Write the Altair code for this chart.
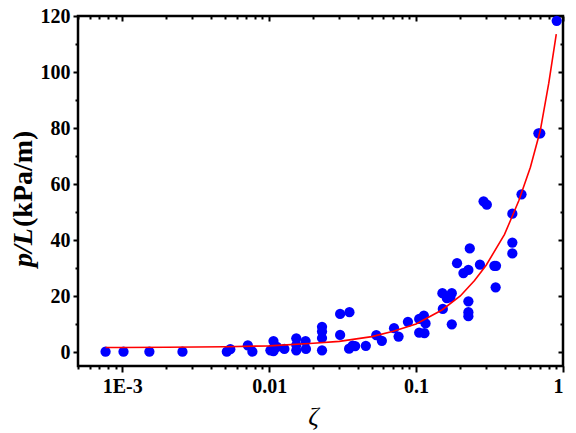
import altair as alt
import pandas as pd

# measured points (zeta, p/L in kPa/m)
zeta = [0.00077, 0.00102, 0.00153, 0.00257, 0.00515, 0.00544, 0.00716, 0.00769,
        0.0102, 0.0107, 0.0107, 0.0113, 0.0127, 0.0153, 0.0153, 0.0153, 0.0177,
        0.0178, 0.0229, 0.0229, 0.0229, 0.0229, 0.0304, 0.0352, 0.0304, 0.0350,
        0.0370, 0.0385, 0.0455, 0.0536, 0.0585, 0.0708, 0.0760, 0.0880, 0.105,
        0.105, 0.113, 0.116, 0.114, 0.152, 0.151, 0.162, 0.171, 0.175, 0.175,
        0.190, 0.210, 0.227, 0.232, 0.227, 0.227, 0.227, 0.272, 0.341, 0.350,
        0.348, 0.288, 0.303, 0.452, 0.452, 0.452, 0.522, 0.68, 0.70, 0.906]
pL = [0.1, 0.1, 0.1, 0.1, 0.1, 1.0, 2.4, 0.1,
      0.6, 3.9, 0.3, 1.8, 1.1, 4.9, 2.5, 0.6, 3.9,
      1.1, 9.0, 7.3, 5.0, 0.6, 13.6, 14.2, 6.1, 1.2,
      2.3, 2.1, 2.2, 6.0, 4.0, 8.5, 5.5, 10.8, 11.8,
      6.9, 13.0, 10.2, 6.7, 15.4, 21.0, 19.2, 19.5, 21.0, 9.9,
      31.7, 28.2, 29.3, 37.0, 18.1, 14.2, 12.8, 31.2, 30.8, 30.8,
      23.1, 53.8, 52.6, 49.4, 39.1, 35.2, 56.3, 78.1, 78.1, 118.3]

# fitted curve
fit_x = [0.00077, 0.001, 0.002, 0.005, 0.01, 0.02, 0.03, 0.05, 0.07, 0.1,
         0.15, 0.2, 0.25, 0.3, 0.4, 0.5, 0.6, 0.7, 0.8, 0.9]
fit_y = [1.6, 1.6, 1.7, 1.9, 2.2, 3.1, 3.8, 5.5, 7.4, 10.0,
         15.0, 20.0, 25.5, 31.0, 42.0, 54.0, 66.0, 79.0, 96.0, 113.5]

x_major = [0.001, 0.01, 0.1, 1]
x_minor = [m * d for d in [0.0001, 0.001, 0.01, 0.1] for m in range(2, 10)]
x_minor = [v for v in x_minor if 0.0005 <= v <= 1]
y_major = [0, 20, 40, 60, 80, 100, 120]
y_minor = [10, 30, 50, 70, 90, 110]

W, H = 485, 350
FONT = "Liberation Serif"

pts = pd.DataFrame({"zeta": zeta, "pL": pL})
fit = pd.DataFrame({"zeta": fit_x, "pL": fit_y})

xs = alt.Scale(type="log", domain=[0.0005, 1], nice=False)
ys = alt.Scale(domain=[-5, 120], nice=False, zero=False)

lbl = ("datum.value < 0.005 ? '1E-3' : datum.value < 0.05 ? '0.01' : "
       "datum.value < 0.5 ? '0.1' : '1'")


def ax(**kw):
    base = dict(grid=False, domain=False, tickColor="black", tickWidth=2,
                labelFont=FONT, labelFontWeight="bold", labelFontSize=20,
                labelColor="black")
    base.update(kw)
    return alt.Axis(**base)


points = alt.Chart(pts).mark_circle(size=105, color="#0000ff", opacity=1).encode(
    x=alt.X("zeta:Q", scale=xs,
            axis=ax(orient="bottom", values=x_major, labelExpr=lbl, tickSize=6,
                    labelPadding=4, title="ζ", titleFont=FONT,
                    titleFontStyle="italic", titleFontWeight="normal",
                    titleFontSize=26, titleColor="black", titlePadding=7,
                    titleX=235)),
    y=alt.Y("pL:Q", scale=ys,
            axis=ax(orient="left", values=y_major, tickSize=5, labelPadding=3,
                    title=None)),
)

curve = alt.Chart(fit).mark_line(color="#ff0000", strokeWidth=1.6).encode(
    x=alt.X("zeta:Q", scale=xs,
            axis=ax(orient="bottom", values=x_minor, labels=False, tickSize=3,
                    title=None)),
    y=alt.Y("pL:Q", scale=ys,
            axis=ax(orient="left", values=y_minor, labels=False, tickSize=3,
                    title=None)),
)

# mirrored inner ticks on top and right
frame_major = alt.Chart(pts).mark_point(opacity=0).encode(
    x=alt.X("zeta:Q", scale=xs,
            axis=ax(orient="bottom", offset=-H, values=x_major, labels=False,
                    tickSize=5, title=None)),
    y=alt.Y("pL:Q", scale=ys,
            axis=ax(orient="left", offset=-W, values=y_major, labels=False,
                    tickSize=5, title=None)),
)
frame_minor = alt.Chart(pts).mark_point(opacity=0).encode(
    x=alt.X("zeta:Q", scale=xs,
            axis=ax(orient="bottom", offset=-H, values=x_minor, labels=False,
                    tickSize=3, title=None)),
    y=alt.Y("pL:Q", scale=ys,
            axis=ax(orient="left", offset=-W, values=y_minor, labels=False,
                    tickSize=3, title=None)),
)

ytitle_a = alt.Chart(pd.DataFrame({"t": ["p/L"]})).mark_text(
    angle=270, align="left", baseline="middle", font=FONT, fontSize=28,
    fontWeight="bold", fontStyle="italic", color="black"
).encode(text="t:N", x=alt.value(-54), y=alt.value(251))

ytitle_b = alt.Chart(pd.DataFrame({"t": ["(kPa/m)"]})).mark_text(
    angle=270, align="left", baseline="middle", font=FONT, fontSize=28,
    fontWeight="bold", color="black"
).encode(text="t:N", x=alt.value(-54), y=alt.value(211))

chart = (
    alt.layer(points, curve, frame_major, frame_minor, ytitle_a, ytitle_b)
    .resolve_axis(x="independent", y="independent")
    .properties(width=W, height=H, autosize=alt.AutoSizeParams(type="none"),
                padding={"left": 70, "top": 8, "right": 5, "bottom": 67})
    .configure_view(stroke="black", strokeWidth=2.5)
)

chart.save("out.html", embed_options={"renderer": "svg", "actions": False})
